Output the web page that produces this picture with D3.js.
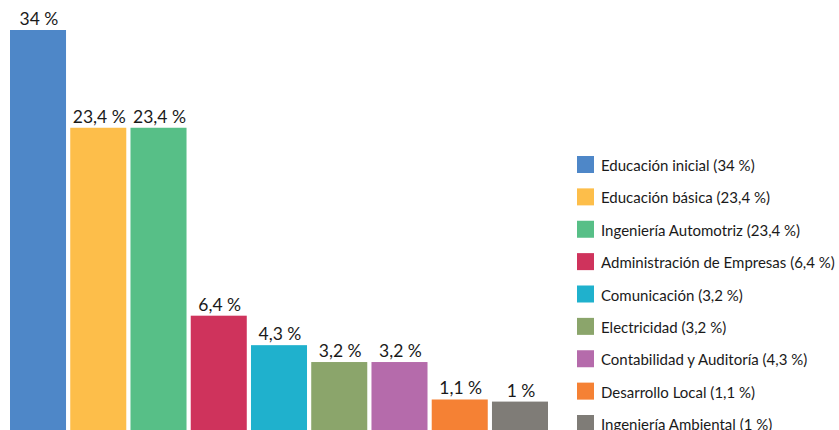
<!DOCTYPE html>
<html>
<head>
<meta charset="utf-8">
<script src="https://cdn.jsdelivr.net/npm/d3@7"></script>
<style>
  html, body { margin: 0; padding: 0; background: #fff; }
  svg { display: block; }
  text { font-family: Lato, "Open Sans", sans-serif; fill: #1a1a1a; }
</style>
</head>
<body>
<svg id="chart" width="839" height="430"></svg>
<script>
const categories = [
  "Educación inicial", "Educación básica", "Ingeniería Automotriz",
  "Administración de Empresas", "Comunicación", "Electricidad",
  "Contabilidad y Auditoría", "Desarrollo Local", "Ingeniería Ambiental"
];
const values = [34, 23.4, 23.4, 6.4, 4.3, 3.2, 3.2, 1.1, 1];
const barLabels = ["34 %", "23,4 %", "23,4 %", "6,4 %", "4,3 %", "3,2 %", "3,2 %", "1,1 %", "1 %"];
const legendLabels = [
  "Educación inicial (34 %)", "Educación básica (23,4 %)", "Ingeniería Automotriz (23,4 %)",
  "Administración de Empresas (6,4 %)", "Comunicación (3,2 %)", "Electricidad (3,2 %)",
  "Contabilidad y Auditoría (4,3 %)", "Desarrollo Local (1,1 %)", "Ingeniería Ambiental (1 %)"
];
const colors = ["#4E87C8", "#FDBE4A", "#57BF87", "#CF335C", "#1FB1CD", "#8BA56B", "#B56BAB", "#F58134", "#7F7C77"];

const svg = d3.select("#chart");

const x = d3.scaleBand().domain(categories).range([10, 548]).paddingInner(0.07).paddingOuter(0);
const y = d3.scalePow().exponent(0.75).domain([0, 34]).range([430, 30]);
const color = d3.scaleOrdinal().domain(categories).range(colors);

const data = categories.map((c, i) => ({ c, v: values[i], label: barLabels[i] }));

svg.append("g").selectAll("rect").data(data).join("rect")
  .attr("x", d => x(d.c))
  .attr("y", d => y(d.v))
  .attr("width", x.bandwidth())
  .attr("height", d => y(0) - y(d.v))
  .attr("fill", d => color(d.c));

svg.append("g").selectAll("text").data(data).join("text")
  .attr("x", d => x(d.c) + x.bandwidth() / 2 + 1)
  .attr("y", d => y(d.v) - 5)
  .attr("text-anchor", "middle")
  .style("font-size", "17.5px")
  .text(d => d.label);

const ly = d3.scalePoint().domain(categories).range([156, 415]);
const leg = svg.append("g").selectAll("g").data(categories).join("g")
  .attr("transform", d => `translate(577,${ly(d)})`);
leg.append("rect").attr("width", 17).attr("height", 17).attr("fill", d => color(d));
leg.append("text").attr("x", 24).attr("y", 15).style("font-size", "15px")
  .text((d, i) => legendLabels[i]);
</script>
</body>
</html>
